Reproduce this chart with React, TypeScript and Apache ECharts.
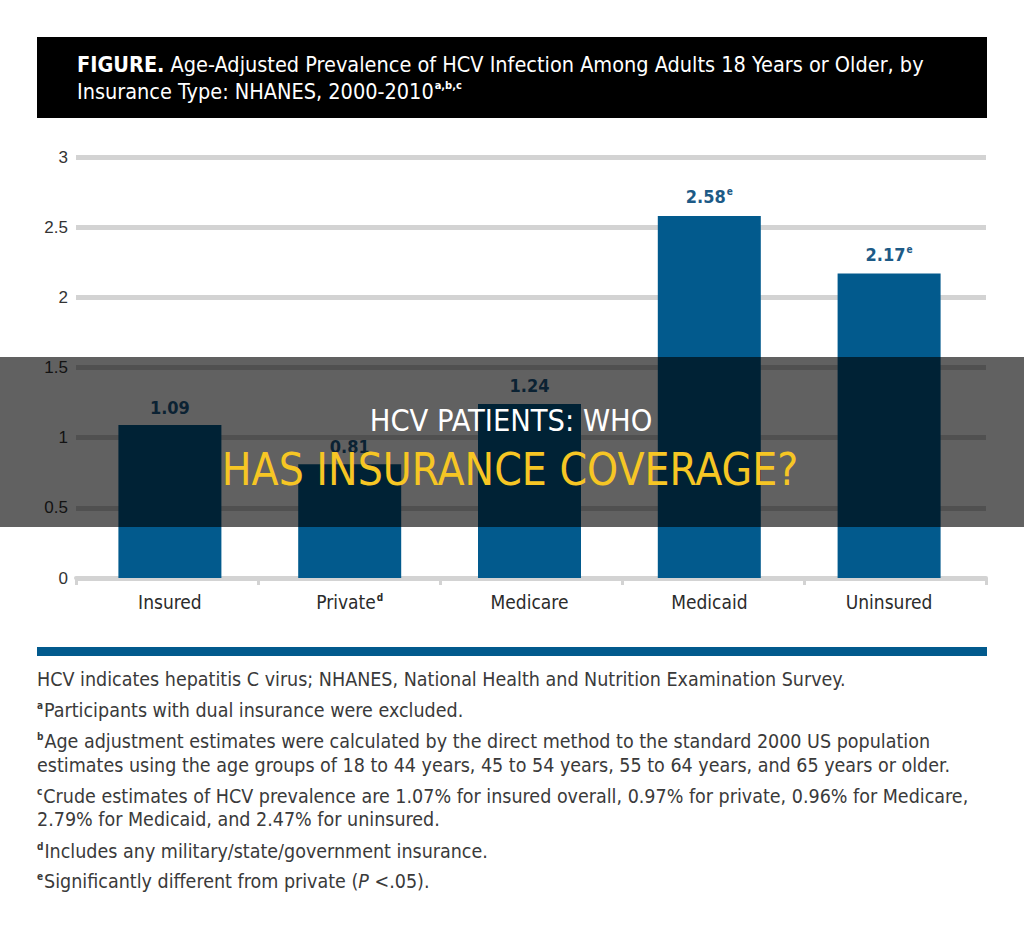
import React, { useEffect, useRef } from "react";
import * as echarts from "echarts";

const categories = ["Insured", "Private", "Medicare", "Medicaid", "Uninsured"];
const categoryNotes = ["", "d", "", "", ""];
const values = [1.09, 0.81, 1.24, 2.58, 2.17];
const valueNotes = ["", "", "", "e", "e"];
const yTicks = [0, 0.5, 1, 1.5, 2, 2.5, 3];

const titleBold = "FIGURE.";
const titleLine1 = " Age-Adjusted Prevalence of HCV Infection Among Adults 18 Years or Older, by";
const titleLine2 = "Insurance Type: NHANES, 2000-2010";
const titleNotes = "a,b,c";

const footnotes: { note: string; text: string }[] = [
  { note: "", text: "HCV indicates hepatitis C virus; NHANES, National Health and Nutrition Examination Survey." },
  { note: "a", text: "Participants with dual insurance were excluded." },
  { note: "b", text: "Age adjustment estimates were calculated by the direct method to the standard 2000 US population" },
  { note: "", text: "estimates using the age groups of 18 to 44 years, 45 to 54 years, 55 to 64 years, and 65 years or older." },
  { note: "c", text: "Crude estimates of HCV prevalence are 1.07% for insured overall, 0.97% for private, 0.96% for Medicare," },
  { note: "", text: "2.79% for Medicaid, and 2.47% for uninsured." },
  { note: "d", text: "Includes any military/state/government insurance." },
  { note: "e", text: "Significantly different from private (|P| <.05)." },
];
const footnoteY = [679, 710, 741, 765, 796, 819, 851, 881];

const overlayLine1 = "HCV PATIENTS: WHO";
const overlayLine2 = "HAS INSURANCE COVERAGE?";

const COND = "'Liberation Sans Narrow', 'DejaVu Sans Condensed', 'Roboto Condensed', 'Liberation Sans', sans-serif";
const SANS = "'Liberation Sans', Arial, sans-serif";
const BLUE = "#025a8d";
const GREY = "#d3d3d3";

function footRich(f: { note: string; text: string }) {
  const parts: string[] = [];
  if (f.note) parts.push(`{s|${f.note}}`);
  const segs = f.text.split("|");
  segs.forEach((seg, i) => {
    if (!seg) return;
    parts.push(i % 2 === 1 ? `{i|${seg}}` : `{t|${seg}}`);
  });
  return parts.join("");
}

export default function App() {
  const ref = useRef<HTMLDivElement>(null);
  useEffect(() => {
    if (!ref.current) return;
    const chart = echarts.init(ref.current, undefined, { renderer: "svg" });
    const gridTop = 157;
    const gridBottom = 937 - 578;

    const graphics: any[] = [
      { type: "rect", shape: { x: 37, y: 37, width: 950, height: 81 }, style: { fill: "#000" }, z: 10 },
      {
        type: "text",
        x: 77,
        y: 64,
        z: 11,
        style: {
          text: `{b|${titleBold}}{t|${titleLine1}}`,
          verticalAlign: "middle",
          rich: {
            b: { fontFamily: COND, fontSize: 21.5, fontWeight: "bold", fill: "#fff" },
            t: { fontFamily: COND, fontSize: 21.5, fill: "#fff" },
          },
        },
      },
      {
        type: "text",
        x: 77,
        y: 91,
        z: 11,
        style: {
          text: `{t|${titleLine2}}{s|${titleNotes}}`,
          verticalAlign: "middle",
          rich: {
            t: { fontFamily: COND, fontSize: 21.5, fill: "#fff" },
            s: { fontFamily: COND, fontSize: 11, fontWeight: "bold", fill: "#fff", verticalAlign: "top", padding: [0, 0, 12, 1] },
          },
        },
      },
      { type: "rect", shape: { x: 37, y: 647, width: 950, height: 9 }, style: { fill: BLUE }, z: 10 },
      ...footnotes.map((f, i) => ({
        type: "text",
        x: 37,
        y: footnoteY[i],
        z: 11,
        style: {
          text: footRich(f),
          verticalAlign: "middle",
          rich: {
            t: { fontFamily: COND, fontSize: 19.5, fill: "#3a3a3a" },
            i: { fontFamily: COND, fontSize: 19.5, fill: "#3a3a3a", fontStyle: "italic" },
            s: { fontFamily: COND, fontSize: 10, fontWeight: "bold", fill: "#3a3a3a", verticalAlign: "top", padding: [0, 1, 10, 0] },
          },
        },
      })),
      { type: "rect", shape: { x: 0, y: 357, width: 1024, height: 170 }, style: { fill: "rgba(0,0,0,0.62)" }, z: 100 },
      {
        type: "text",
        x: 511,
        y: 420,
        z: 101,
        style: { text: overlayLine1, fontFamily: COND, fontSize: 30.5, fill: "#ffffff", align: "center", verticalAlign: "middle" },
      },
      {
        type: "text",
        x: 510,
        y: 469,
        z: 101,
        style: { text: overlayLine2, fontFamily: COND, fontSize: 44, fill: "#f6c624", align: "center", verticalAlign: "middle" },
      },
    ];

    chart.setOption({
      animation: false,
      backgroundColor: "#ffffff",
      grid: [
        { left: 80, right: 45, top: gridTop, bottom: gridBottom },
        { left: 76, right: 38, top: gridTop, bottom: gridBottom },
      ],
      xAxis: [
        {
          type: "category",
          gridIndex: 0,
          data: categories,
          axisLine: { show: false },
          axisTick: { show: false },
          axisLabel: {
            margin: 14,
            formatter: (v: string, idx: number) =>
              categoryNotes[idx] ? `{c|${v}}{s|${categoryNotes[idx]}}` : `{c|${v}}`,
            rich: {
              c: { fontFamily: COND, fontSize: 19, color: "#2b2b2b" },
              s: { fontFamily: COND, fontSize: 10, fontWeight: "bold", color: "#2b2b2b", verticalAlign: "top", padding: [0, 0, 10, 1] },
            },
          },
        },
        {
          type: "category",
          gridIndex: 1,
          data: categories,
          axisLine: { show: true, lineStyle: { color: GREY, width: 4 } },
          axisTick: { show: true, length: 7, lineStyle: { color: GREY, width: 3 } },
          axisLabel: { show: false },
        },
      ],
      yAxis: [
        {
          type: "value",
          gridIndex: 0,
          min: 0,
          max: 3,
          interval: 0.5,
          axisLabel: { show: false },
          axisLine: { show: false },
          axisTick: { show: false },
          splitLine: { show: false },
        },
        {
          type: "value",
          gridIndex: 1,
          min: yTicks[0],
          max: yTicks[yTicks.length - 1],
          interval: 0.5,
          axisLine: { show: false },
          axisTick: { show: false },
          axisLabel: { fontFamily: SANS, fontSize: 17, color: "#333", margin: 8 },
          splitLine: { show: true, lineStyle: { color: GREY, width: 5 } },
        },
      ],
      series: [
        {
          type: "bar",
          xAxisIndex: 0,
          yAxisIndex: 0,
          data: values,
          barWidth: 103,
          itemStyle: { color: BLUE },
          z: 5,
          label: {
            show: true,
            position: "top",
            distance: 9,
            formatter: (p: any) => {
              const n = valueNotes[p.dataIndex];
              const v = Number(p.value).toFixed(2);
              return n ? `{v|${v}}{s|${n}}` : `{v|${v}}`;
            },
            rich: {
              v: { fontFamily: COND, fontSize: 18, fontWeight: "bold", color: "#1d5a86" },
              s: { fontFamily: COND, fontSize: 10, fontWeight: "bold", color: "#1d5a86", verticalAlign: "top", padding: [0, 0, 10, 1] },
            },
          },
        },
      ],
      graphic: graphics,
    });
    return () => chart.dispose();
  }, []);
  return <div ref={ref} style={{ position: "fixed", left: 0, top: 0, width: 1024, height: 937 }} />;
}
